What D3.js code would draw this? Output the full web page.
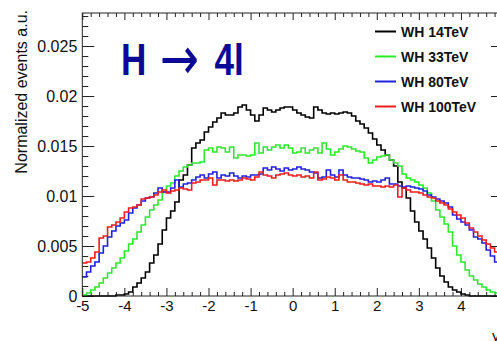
<!DOCTYPE html>
<html>
<head>
<meta charset="utf-8">
<script src="https://cdn.jsdelivr.net/npm/d3@7"></script>
<style>
  body { margin: 0; background: #fff; }
  svg { display: block; font-family: "Liberation Sans", Arial, Helvetica, sans-serif; }
</style>
</head>
<body>
<div id="chart"></div>
<script>
// histogram binning: 100 bins of 0.1 between -5 and 5
var xRange = [-5, 5];
var binWidth = 0.1;

var xTicks = [-5, -4, -3, -2, -1, 0, 1, 2, 3, 4, 5];
var xTickLabels = ["-5", "-4", "-3", "-2", "-1", "0", "1", "2", "3", "4", "5"];
var yTicks = [0, 0.005, 0.01, 0.015, 0.02, 0.025];
var yTickLabels = ["0", "0.005", "0.01", "0.015", "0.02", "0.025"];

var seriesNames = ["WH 14TeV", "WH 33TeV", "WH 80TeV", "WH 100TeV"];
var seriesColors = ["#000000", "#2ee82e", "#2020e0", "#ee1c1c"];

var wh14 = [0,0,0,0,0,0,0,0,
  0.0001,0.0001,0.0002,0.0004,0.0009,0.0013,0.0018,0.0024,0.0033,0.0041,0.0052,0.0066,
  0.0078,0.0085,0.0094,0.0116,0.0121,0.0131,0.0148,0.0153,0.0156,0.0164,
  0.0169,0.0174,0.0178,0.0183,0.0181,0.0181,0.0183,0.0189,0.0191,0.0186,
  0.0181,0.0175,0.0181,0.0188,0.0186,0.0184,0.0186,0.0188,0.0189,0.0189,
  0.0186,0.0183,0.0181,0.0179,0.0178,0.0189,0.0186,0.0183,0.0182,0.0183,
  0.0182,0.0183,0.0184,0.0183,0.0180,0.0175,0.0172,0.0168,0.0163,0.0157,
  0.0151,0.0146,0.0141,0.0136,0.0130,0.0114,0.0108,0.0098,0.0085,0.0074,
  0.0065,0.0057,0.0048,0.0038,0.0028,0.0020,0.0014,0.0009,0.0006,0.0004,
  0.0002,0.0001,0,0,0,0,0,0,0,0];

var wh33 = [0.0001,0.0003,0.0006,0.0009,0.0013,0.0018,0.0023,0.0028,0.0033,0.0038,
  0.0045,0.0052,0.0057,0.0064,0.0071,0.0079,0.0086,0.0091,0.0096,0.0104,
  0.0110,0.0113,0.0120,0.0125,0.0129,0.0131,0.0133,0.0133,0.0134,0.0146,
  0.0148,0.0144,0.0149,0.0148,0.0144,0.0149,0.0138,0.0141,0.0141,0.0140,
  0.0141,0.0153,0.0143,0.0149,0.0146,0.0149,0.0151,0.0148,0.0151,0.0148,
  0.0143,0.0144,0.0148,0.0143,0.0146,0.0148,0.0143,0.0153,0.0147,0.0141,
  0.0144,0.0147,0.0150,0.0149,0.0147,0.0145,0.0144,0.0138,0.0133,0.0136,
  0.0139,0.0140,0.0141,0.0136,0.0133,0.0130,0.0122,0.0118,0.0116,0.0114,
  0.0111,0.0108,0.0103,0.0095,0.0086,0.0079,0.0072,0.0064,0.0050,0.0041,
  0.0034,0.0026,0.0020,0.0016,0.0012,0.0009,0.0006,0.0004,0.0003,0.0002];

var wh80 = [0.0019,0.0024,0.0030,0.0034,0.0043,0.0050,0.0059,0.0065,0.0070,0.0073,
  0.0076,0.0083,0.0088,0.0091,0.0095,0.0098,0.0099,0.0103,0.0108,0.0104,
  0.0104,0.0108,0.0116,0.0109,0.0112,0.0113,0.0116,0.0119,0.0121,0.0118,
  0.0122,0.0124,0.0118,0.0121,0.0120,0.0123,0.0120,0.0118,0.0120,0.0119,
  0.0121,0.0121,0.0122,0.0128,0.0126,0.0129,0.0127,0.0125,0.0128,0.0126,
  0.0127,0.0129,0.0127,0.0126,0.0124,0.0123,0.0118,0.0119,0.0126,0.0121,
  0.0119,0.0126,0.0121,0.0119,0.0118,0.0118,0.0117,0.0116,0.0114,0.0115,
  0.0114,0.0116,0.0118,0.0112,0.0112,0.0110,0.0109,0.0110,0.0109,0.0108,
  0.0107,0.0105,0.0101,0.0099,0.0097,0.0095,0.0093,0.0089,0.0081,0.0077,
  0.0074,0.0071,0.0066,0.0059,0.0057,0.0053,0.0046,0.0040,0.0034,0.0028];

var wh100 = [0.0033,0.0034,0.0038,0.0044,0.0058,0.0060,0.0069,0.0071,0.0074,0.0078,
  0.0084,0.0088,0.0089,0.0091,0.0097,0.0098,0.0099,0.0101,0.0104,0.0106,
  0.0103,0.0105,0.0106,0.0108,0.0107,0.0106,0.0113,0.0114,0.0116,0.0116,
  0.0118,0.0111,0.0116,0.0116,0.0115,0.0116,0.0115,0.0116,0.0118,0.0117,
  0.0116,0.0119,0.0124,0.0121,0.0120,0.0118,0.0121,0.0122,0.0123,0.0121,
  0.0120,0.0121,0.0119,0.0120,0.0118,0.0124,0.0116,0.0117,0.0119,0.0118,
  0.0116,0.0121,0.0116,0.0114,0.0114,0.0113,0.0112,0.0111,0.0112,0.0110,
  0.0110,0.0109,0.0110,0.0109,0.0111,0.0099,0.0108,0.0106,0.0104,0.0104,
  0.0103,0.0101,0.0099,0.0098,0.0095,0.0093,0.0091,0.0087,0.0084,0.0081,
  0.0078,0.0073,0.0068,0.0064,0.0060,0.0056,0.0052,0.0048,0.0044,0.0041];

var seriesValues = [wh14, wh33, wh80, wh100];

var W = 497, H = 341;
var frame = {left: 82.3, right: 503, top: 13, bottom: 296};

var svg = d3.select("#chart").append("svg")
    .attr("width", W)
    .attr("height", H);

svg.append("rect")
    .attr("width", W)
    .attr("height", H)
    .style("fill", "white");

var x = d3.scaleLinear().domain(xRange).range([frame.left, frame.right]);
var y = d3.scaleLinear().domain([0, 0.0283]).range([frame.bottom, frame.top]);

var xMinor = d3.range(-50, 51, 2).map(function(d){ return d / 10; }).filter(function(d){ return xTicks.indexOf(d) < 0; });
var yMinor = d3.range(0, 29).map(function(d){ return d / 1000; }).filter(function(d){ return d * 1000 % 5 !== 0; });

function styleAxis(g){
  g.select(".domain").remove();
  g.selectAll("line").style("stroke", "#222").style("stroke-width", 1);
  g.selectAll("text").style("fill", "#111").style("font-family", "\"Liberation Sans\", Arial, sans-serif");
}

// left axis
svg.append("g")
    .attr("transform", "translate(" + frame.left + ",0)")
    .call(d3.axisLeft(y).tickValues(yTicks).tickSize(-12).tickPadding(5)
      .tickFormat(function(d, i){ return yTickLabels[i]; }))
    .call(styleAxis)
    .selectAll("text").style("font-size", "16px");

svg.append("g")
    .attr("transform", "translate(" + frame.left + ",0)")
    .call(d3.axisLeft(y).tickValues(yMinor).tickSize(-6).tickFormat(""))
    .call(styleAxis);

// right axis
svg.append("g")
    .attr("transform", "translate(" + frame.right + ",0)")
    .call(d3.axisRight(y).tickValues(yTicks).tickSize(-12).tickFormat(""))
    .call(styleAxis);

svg.append("g")
    .attr("transform", "translate(" + frame.right + ",0)")
    .call(d3.axisRight(y).tickValues(yMinor).tickSize(-6).tickFormat(""))
    .call(styleAxis);

// bottom axis
svg.append("g")
    .attr("transform", "translate(0," + frame.bottom + ")")
    .call(d3.axisBottom(x).tickValues(xTicks).tickSize(-8).tickPadding(4)
      .tickFormat(function(d, i){ return xTickLabels[i]; }))
    .call(styleAxis)
    .selectAll("text").style("font-size", "15px");

svg.append("g")
    .attr("transform", "translate(0," + frame.bottom + ")")
    .call(d3.axisBottom(x).tickValues(xMinor).tickSize(-4).tickFormat(""))
    .call(styleAxis);

// top axis
svg.append("g")
    .attr("transform", "translate(0," + frame.top + ")")
    .call(d3.axisTop(x).tickValues(xTicks).tickSize(-7).tickFormat(""))
    .call(styleAxis);

svg.append("g")
    .attr("transform", "translate(0," + frame.top + ")")
    .call(d3.axisTop(x).tickValues(xMinor).tickSize(-4).tickFormat(""))
    .call(styleAxis);

// histograms
var line = d3.line()
    .curve(d3.curveStepAfter)
    .x(function(d){ return x(d.x); })
    .y(function(d){ return y(d.v); });

var hists = seriesValues.map(function(vals){
  var pts = vals.map(function(v, i){ return {x: xRange[0] + i * binWidth, v: v}; });
  pts.push({x: xRange[1], v: vals[vals.length - 1]});
  return pts;
});

svg.append("g")
    .attr("class", "hists")
    .selectAll("path")
    .data(hists).enter()
  .append("path")
    .attr("d", line)
    .style("fill", "none")
    .style("stroke", function(d, i){ return seriesColors[i]; })
    .style("stroke-width", 1.6);

// frame
svg.append("rect")
    .attr("x", frame.left)
    .attr("y", frame.top)
    .attr("width", frame.right - frame.left)
    .attr("height", frame.bottom - frame.top)
    .style("fill", "none")
    .style("stroke", "#222")
    .style("stroke-width", 1);

// y title
svg.append("text")
    .attr("transform", "translate(27,10) rotate(-90)")
    .style("text-anchor", "end")
    .style("font-size", "16px")
    .style("fill", "#111")
    .text("Normalized events a.u.");

// x title (cut at the window edge)
svg.append("text")
    .attr("x", 492)
    .attr("y", 341)
    .style("font-size", "15px")
    .style("fill", "#111")
    .text("y");

// process label
var title = svg.append("text")
    .attr("transform", "translate(121,75) scale(0.78,1)")
    .style("font-size", "45px")
    .style("font-weight", "bold")
    .style("fill", "#0a0a96");
title.append("tspan").attr("x", 0).text("H");
title.append("tspan")
    .attr("x", 50)
    .attr("dy", 4)
    .style("font-family", "\"DejaVu Sans\", sans-serif")
    .style("font-weight", "normal")
    .style("font-size", "60px")
    .text("→");
title.append("tspan").attr("x", 120).attr("dy", -4).text("4l");

// legend
var legend = svg.append("g")
    .attr("class", "legend")
    .selectAll("g")
    .data(seriesNames).enter()
  .append("g")
    .attr("transform", function(d, i){ return "translate(375," + (31.5 + i * 25) + ")"; });

legend.append("line")
    .attr("x1", 0).attr("x2", 21)
    .style("stroke", function(d, i){ return seriesColors[i]; })
    .style("stroke-width", 2);

legend.append("text")
    .attr("x", 26)
    .attr("y", 5)
    .style("font-size", "14px")
    .style("font-weight", "bold")
    .style("fill", "#111")
    .text(function(d){ return d; });
</script>
</body>
</html>
